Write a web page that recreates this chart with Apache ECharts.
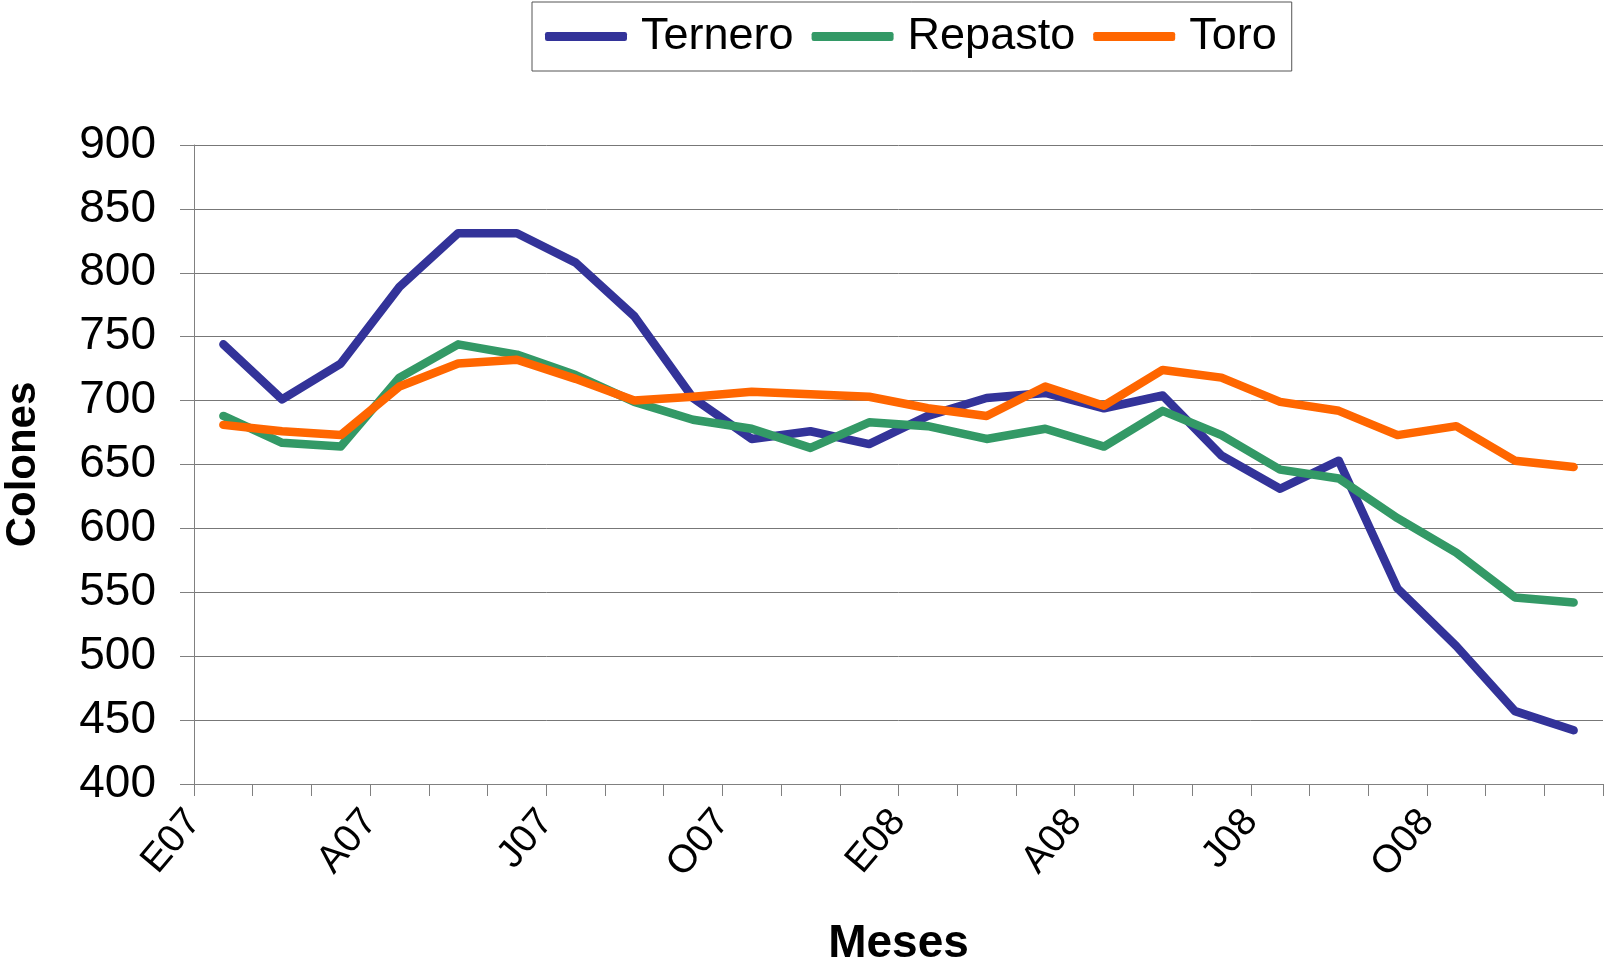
<!DOCTYPE html>
<html>
<head>
<meta charset="utf-8">
<script src="https://cdn.jsdelivr.net/npm/echarts@6/dist/echarts.min.js"></script>
<style>
  html, body { margin: 0; padding: 0; background: #fff; }
  #chart { width: 1605px; height: 963px; }
</style>
</head>
<body>
<div id="chart"></div>
<script>
// months Jan 2007 - Dec 2008 (Spanish initials)
var months = ['E07', 'F07', 'M07', 'A07', 'M07', 'J07', 'J07', 'A07', 'S07', 'O07', 'N07', 'D07',
	'E08', 'F08', 'M08', 'A08', 'M08', 'J08', 'J08', 'A08', 'S08', 'O08', 'N08', 'D08'];

var ternero = [744, 701, 729, 789, 831, 831, 808, 766, 702, 670, 676, 666,
	688, 702, 706, 694, 704, 657, 631, 653, 553, 508, 457, 442];
var repasto = [688, 667, 664, 718, 744, 736, 720, 699, 685, 678, 663, 683,
	680, 670, 678, 664, 692, 673, 646, 639, 608, 581, 546, 542];
var toro = [681, 676, 673, 711, 729, 732, 717, 700, 703, 707, 705, 703,
	694, 688, 711, 696, 724, 718, 699, 692, 673, 680, 653, 648];

var yTicks = [400, 450, 500, 550, 600, 650, 700, 750, 800, 850, 900];

var font = '"Liberation Sans", Arial, sans-serif';

// label axis sits on the category boundaries, one more slot than months
var boundaryLabels = months.concat(['']);

function makeSeries(name, data, color) {
	return {
		name : name,
		type : 'line',
		data : data,
		xAxisIndex : 0,
		showSymbol : false,
		symbol : 'none',
		color : color,
		lineStyle : {
			width : 8.5,
			color : color,
			cap : 'round',
			join : 'round'
		},
		animation : false
	};
}

var chart = echarts.init(document.getElementById('chart'));
var option = {
	backgroundColor : '#fff',
	animation : false,
	legend : {
		left : 532,
		top : 2,
		padding : [12, 15, 12, 13],
		borderColor : '#555',
		borderWidth : 1,
		itemGap : 18,
		itemWidth : 82,
		itemHeight : 9,
		icon : 'roundRect',
		textStyle : {
			fontFamily : font,
			fontSize : 45,
			color : '#000',
			padding : [0, 0, 0, 9]
		},
		data : ['Ternero', 'Repasto', 'Toro']
	},
	grid : {
		left : 194,
		right : 2,
		top : 145,
		bottom : 179,
		outerBoundsMode : 'none',
		containLabel : false
	},
	xAxis : [ {
		type : 'category',
		data : months,
		boundaryGap : true,
		axisLine : { lineStyle : { color : '#808080', width : 1 } },
		axisTick : { show : true, interval : 0, length : 12, lineStyle : { color : '#808080' } },
		axisLabel : { show : false },
		name : 'Meses',
		nameLocation : 'middle',
		nameGap : 137,
		nameTextStyle : {
			fontFamily : font,
			fontSize : 46,
			fontWeight : 'bold',
			color : '#000'
		}
	}, {
		type : 'category',
		data : boundaryLabels,
		boundaryGap : false,
		position : 'bottom',
		axisLine : { show : false },
		axisTick : { show : false },
		axisLabel : {
			interval : 2,
			rotate : 50,
			margin : 31,
			fontFamily : font,
			fontSize : 39,
			color : '#000'
		}
	} ],
	yAxis : {
		type : 'value',
		min : yTicks[0],
		max : yTicks[yTicks.length - 1],
		interval : 50,
		axisLine : { show : true, lineStyle : { color : '#808080', width : 1 } },
		axisTick : { show : true, length : 14, lineStyle : { color : '#808080' } },
		splitLine : { show : true, lineStyle : { color : '#777', width : 1 } },
		axisLabel : {
			margin : 38,
			fontFamily : font,
			fontSize : 46,
			color : '#000'
		},
		name : 'Colones',
		nameLocation : 'middle',
		nameRotate : 90,
		nameGap : 150,
		nameTextStyle : {
			fontFamily : font,
			fontSize : 42,
			fontWeight : 'bold',
			color : '#000'
		}
	},
	series : [
		makeSeries('Ternero', ternero, '#333399'),
		makeSeries('Repasto', repasto, '#339966'),
		makeSeries('Toro', toro, '#FF6600')
	]
};
chart.setOption(option);
</script>
</body>
</html>
